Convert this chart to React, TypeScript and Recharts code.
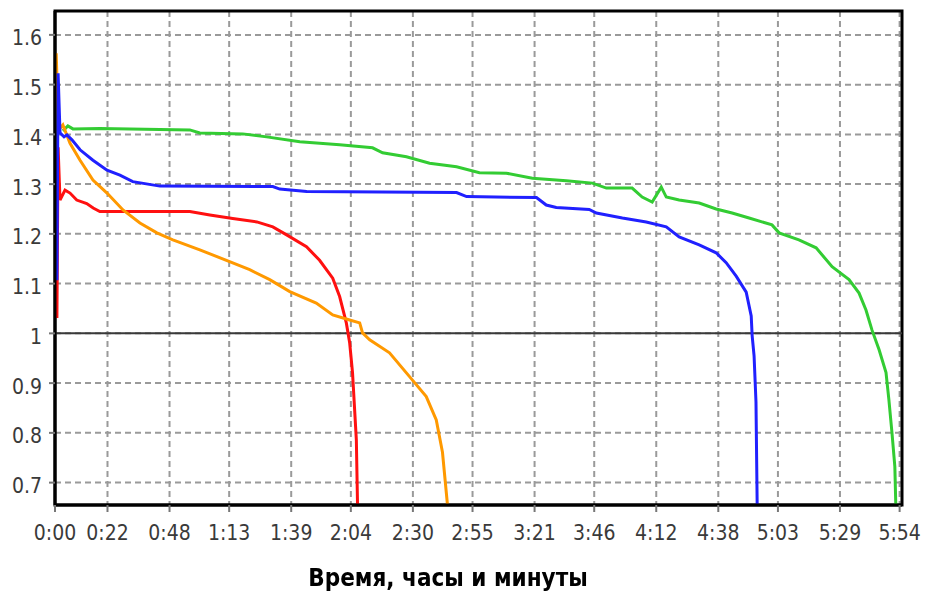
import { LineChart, Line, XAxis, YAxis, CartesianGrid, ReferenceLine, ReferenceArea } from "recharts"

// time in minutes, voltage in volts
const greenT = [3.3, 5.4, 7.5, 18.8, 56.5, 60.7, 78.7, 88.7, 102.6, 119.3, 133.1, 137.3, 147.3, 157, 168.3, 177.9, 189.2, 200.1, 214.3, 225.2, 231.1, 241.9, 246.1, 250.3, 254.1, 256.2, 261.6, 270, 277.1, 283.8, 290.9, 300.5, 303.5, 311.8, 319, 325.7, 332.8, 337, 339.9, 342.4, 345.4, 348.3, 349.5, 350.8, 352, 352.4]
const greenV = [1.407, 1.417, 1.411, 1.412, 1.409, 1.403, 1.401, 1.395, 1.385, 1.379, 1.373, 1.363, 1.355, 1.342, 1.335, 1.323, 1.322, 1.312, 1.307, 1.302, 1.292, 1.292, 1.274, 1.264, 1.294, 1.274, 1.268, 1.262, 1.25, 1.242, 1.232, 1.218, 1.202, 1.188, 1.172, 1.134, 1.108, 1.081, 1.047, 1.007, 0.967, 0.921, 0.867, 0.8, 0.732, 0.655]

const blueT = [0.8, 1.3, 2.1, 3.8, 5, 7.1, 10.5, 15.9, 21.8, 27.2, 32.6, 44, 91.3, 94.2, 105.5, 168.3, 172.5, 201.8, 205.9, 210.1, 223.9, 226.9, 237.8, 247.8, 256.2, 261.6, 270, 277.1, 281.3, 285.5, 289.7, 291.8, 292.2, 293, 293.8, 294.3]
const blueV = [1.107, 1.523, 1.403, 1.395, 1.399, 1.389, 1.369, 1.348, 1.328, 1.318, 1.305, 1.296, 1.295, 1.29, 1.285, 1.283, 1.275, 1.273, 1.258, 1.253, 1.249, 1.242, 1.232, 1.224, 1.214, 1.194, 1.178, 1.162, 1.142, 1.115, 1.083, 1.035, 0.995, 0.955, 0.862, 0.655]

const redT = [0.8, 1.3, 2.1, 4.2, 6.3, 9.1, 13.3, 16, 18.8, 56.5, 64.9, 74.5, 84.6, 91.3, 97.1, 105.4, 110.9, 116.4, 119.3, 122.1, 123.5, 124.7, 126.3, 126.8]
const redV = [1.031, 1.374, 1.268, 1.288, 1.282, 1.268, 1.261, 1.252, 1.245, 1.245, 1.238, 1.231, 1.224, 1.214, 1.198, 1.174, 1.147, 1.111, 1.074, 1.021, 0.981, 0.921, 0.786, 0.655]

const orangeT = [0.5, 1.5, 3.3, 6.3, 10.5, 15.9, 21.8, 28.5, 35.6, 42.7, 49.4, 60.7, 81.6, 90, 98.4, 109.5, 116.4, 123.5, 127.7, 128.9, 131.9, 140.2, 148.6, 155.6, 159.8, 162.4, 164.5]
const orangeV = [1.563, 1.409, 1.419, 1.382, 1.348, 1.308, 1.282, 1.248, 1.222, 1.202, 1.188, 1.168, 1.128, 1.108, 1.084, 1.061, 1.037, 1.027, 1.021, 1.001, 0.987, 0.961, 0.913, 0.873, 0.826, 0.761, 0.655]

const xTicks = [0, 22, 48, 73, 99, 124, 150, 175, 201, 226, 252, 278, 303, 329, 354]
const yTicks = [0.7, 0.8, 0.9, 1, 1.1, 1.2, 1.3, 1.4, 1.5, 1.6]

const X_DOMAIN = [0, 355]
const Y_DOMAIN = [0.655, 1.648]

const rows = (t: number[], v: number[]) => t.map((x, i) => ({ t: x, v: v[i] }))

// 4 small ticks between every pair of big ones
const minor = (ticks: number[]) => {
  const out: number[] = []
  for (let i = 0; i < ticks.length - 1; i++) {
    for (let k = 1; k < 5; k++) out.push(ticks[i] + (ticks[i + 1] - ticks[i]) * k / 5)
  }
  return out
}

const fmtTime = (m: number) => {
  const h = Math.floor(m / 60)
  const mm = Math.round(m % 60)
  return `${h}:${String(mm).padStart(2, "0")}`
}

const FONT = "'DejaVu Sans Condensed', 'Liberation Sans', sans-serif"

export default function App() {
  const tickStyle = { fontFamily: FONT, fontSize: 21, fill: "#3a3a3a" }

  return (
    <div style={{ position: "fixed", left: 0, top: 0, width: 925, height: 591, background: "#fff" }}>
      <LineChart width={925} height={591} margin={{ top: 11, right: 23, left: 0, bottom: 46 }}>
        <CartesianGrid stroke="#9a9a9a" strokeWidth={2} strokeDasharray="6 4" />

        <XAxis xAxisId="m" type="number" dataKey="t" domain={X_DOMAIN} ticks={minor(xTicks)}
          tick={false} axisLine={false} tickSize={4} height={0}
          tickLine={{ stroke: "#777", strokeWidth: 2 }} />
        <XAxis type="number" dataKey="t" domain={X_DOMAIN} ticks={xTicks} tickFormatter={fmtTime}
          interval={0} height={40} tickSize={7} tickMargin={13}
          axisLine={{ stroke: "#000", strokeWidth: 3 }} tickLine={{ stroke: "#777", strokeWidth: 2 }}
          tick={tickStyle} />

        <YAxis yAxisId="m" type="number" domain={Y_DOMAIN} ticks={minor(yTicks)} allowDataOverflow
          tick={false} axisLine={false} tickSize={3} width={0}
          tickLine={{ stroke: "#777", strokeWidth: 2 }} />
        <YAxis type="number" domain={Y_DOMAIN} ticks={yTicks} allowDataOverflow interval={0}
          tickFormatter={(v: number) => String(Math.round(v * 10) / 10)}
          width={55} tickSize={6} tickMargin={7}
          axisLine={{ stroke: "#000", strokeWidth: 3 }} tickLine={{ stroke: "#777", strokeWidth: 2 }}
          tick={{ ...tickStyle, dy: 3 }} />

        <ReferenceLine y={1} stroke="#3a3a3a" strokeWidth={2} />
        <ReferenceArea x1={X_DOMAIN[0]} x2={X_DOMAIN[1]} y1={Y_DOMAIN[0]} y2={Y_DOMAIN[1]}
          fill="none" stroke="#000" strokeWidth={3} />

        <Line data={rows(greenT, greenV)} dataKey="v" stroke="#33cc33" strokeWidth={3} dot={false} isAnimationActive={false} />
        <Line data={rows(redT, redV)} dataKey="v" stroke="#ff1010" strokeWidth={3} dot={false} isAnimationActive={false} />
        <Line data={rows(orangeT, orangeV)} dataKey="v" stroke="#ff9900" strokeWidth={3} dot={false} isAnimationActive={false} />
        <Line data={rows(blueT, blueV)} dataKey="v" stroke="#2020ff" strokeWidth={3} dot={false} isAnimationActive={false} />
      </LineChart>

      <div style={{ position: "absolute", left: 248, top: 566, width: 400, textAlign: "center",
        fontFamily: FONT, fontWeight: "bold", fontSize: 24, lineHeight: "24px", color: "#000" }}>
        Время, часы и минуты
      </div>
    </div>
  )
}
